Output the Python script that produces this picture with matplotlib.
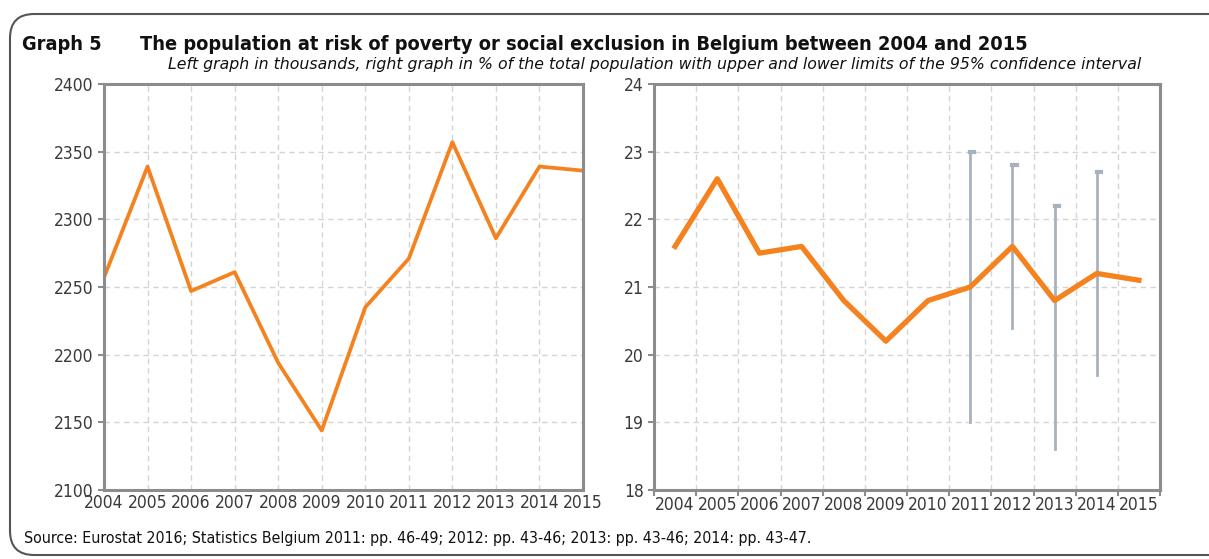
import matplotlib.pyplot as plt
from matplotlib.patches import FancyBboxPatch

years = list(range(2004, 2016))
pop_thousands = [2257, 2339, 2247, 2261, 2194, 2144, 2235, 2271, 2357, 2286, 2339, 2336]
pop_percent = [21.6, 22.6, 21.5, 21.6, 20.8, 20.2, 20.8, 21.0, 21.6, 20.8, 21.2, 21.1]
ci_years = [2011, 2012, 2013, 2014]
ci_lower = [19.0, 20.4, 18.6, 19.7]
ci_upper = [23.0, 22.8, 22.2, 22.7]

orange = '#f4821f'
spine_col = '#8c8c8c'
grid_col = '#d4d4d4'
txt_col = '#3a3a3a'
ci_col = '#a8b2bf'
font = 'DejaVu Sans'
stretch = 'condensed'

fig = plt.figure(figsize=(12.09, 5.59), dpi=100)
W, H = 1209, 559

# rounded frame
frame = FancyBboxPatch((10 / W, 4 / H), 1.2, (H - 18) / H,
                       boxstyle='round,pad=0,rounding_size=0.02',
                       transform=fig.transFigure, fill=False,
                       edgecolor='#555555', linewidth=1.5, mutation_aspect=W / H)
fig.patches.append(frame)

fig.text(22 / W, 1 - 44 / H, 'Graph 5', fontsize=14.3, fontweight='bold',
         family=font, stretch=stretch, color='#111111', va='center')
fig.text(140 / W, 1 - 44 / H,
         'The population at risk of poverty or social exclusion in Belgium between 2004 and 2015',
         fontsize=14.3, fontweight='bold', family=font, stretch=stretch, color='#111111', va='center')
fig.text(168 / W, 1 - 65 / H,
         'Left graph in thousands, right graph in % of the total population with upper and lower limits of the 95% confidence interval',
         fontsize=11.3, style='italic', family=font, color='#111111', va='center')
fig.text(24 / W, 1 - 539 / H,
         'Source: Eurostat 2016; Statistics Belgium 2011: pp. 46-49; 2012: pp. 43-46; 2013: pp. 43-46; 2014: pp. 43-47.',
         fontsize=11.4, family=font, stretch=stretch, color='#111111', va='center')


def style_axes(ax):
    for s in ax.spines.values():
        s.set_color(spine_col)
        s.set_linewidth(2.2)
    ax.tick_params(which='both', colors=spine_col, labelcolor=txt_col, labelsize=12.5, length=4, width=1.5)
    for lab in ax.get_xticklabels(which='both') + ax.get_yticklabels():
        lab.set_family(font)
        lab.set_stretch(stretch)
    ax.grid(True, color=grid_col, linestyle=(0, (4, 3)), linewidth=1)
    ax.set_axisbelow(True)


# left graph
ax1 = fig.add_axes([104 / W, 1 - 490 / H, (583 - 104) / W, (490 - 84) / H])
ax1.plot(years, pop_thousands, color=orange, linewidth=2.7)
ax1.set_xlim(2004, 2015)
ax1.set_ylim(2100, 2400)
ax1.set_xticks(years)
ax1.set_yticks(range(2100, 2401, 50))
style_axes(ax1)
ax1.tick_params(axis='x', length=0, pad=3)

# right graph
ax2 = fig.add_axes([654 / W, 1 - 490 / H, (1160 - 654) / W, (490 - 84) / H])
for yr, lo, hi in zip(ci_years, ci_lower, ci_upper):
    ax2.plot([yr, yr], [lo, hi], color=ci_col, linewidth=2, zorder=2)
    ax2.plot([yr, yr + 0.1], [hi, hi], color=ci_col, linewidth=3, zorder=2)
ax2.plot(years, pop_percent, color=orange, linewidth=3.8, zorder=3)
ax2.set_xlim(2003.5, 2015.5)
ax2.set_ylim(18, 24)
ax2.set_yticks(range(18, 25))
ax2.set_xticks([y + 0.5 for y in range(2003, 2016)])
ax2.set_xticklabels([])
ax2.set_xticks(years, minor=True)
ax2.set_xticklabels([str(y) for y in years], minor=True)
style_axes(ax2)
ax2.tick_params(axis='x', which='minor', length=0, pad=4)
ax2.grid(False, axis='x', which='minor')

fig.savefig('out.png', dpi=100)
